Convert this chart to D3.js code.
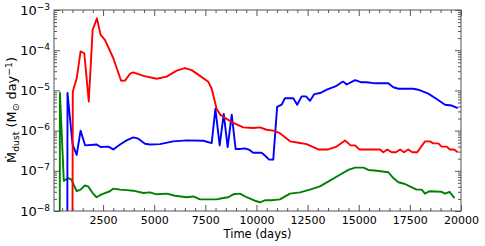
<!DOCTYPE html>
<html>
<head>
<meta charset="utf-8">
<script src="https://cdn.jsdelivr.net/npm/d3@7"></script>
<style>
  body { margin: 0; background: #fff; }
  text { font-family: "DejaVu Sans", sans-serif; fill: #000; }
</style>
</head>
<body>
<div id="chart"></div>
<script>
'use strict';

// [time (days), Mdot_dust (Msun/day)]; values below 1e-8 fall off the axis
var red = [
  [1000, 1e-9], [1020, 9.4e-6], [1210, 2.0e-5], [1400, 9.3e-5], [1580, 8.4e-5],
  [1800, 5.3e-6], [1990, 3.2e-4], [2200, 6.2e-4], [2380, 2.4e-4], [2590, 1.8e-4],
  [3000, 6.3e-5], [3380, 1.74e-5], [3570, 1.75e-5], [3820, 2.6e-5], [3980, 2.8e-5],
  [4470, 2.3e-5], [5120, 1.95e-5], [5610, 2.2e-5], [6100, 3.1e-5], [6500, 3.6e-5],
  [6830, 3.2e-5], [7240, 2.3e-5], [7640, 1.65e-5], [7810, 1.1e-5], [8050, 3.5e-6],
  [8220, 2.5e-6], [8380, 2.2e-6], [8870, 1.55e-6], [9350, 1.2e-6], [9840, 1.16e-6],
  [10170, 1.2e-6], [10490, 1.05e-6], [10820, 1.0e-6], [11150, 8.6e-7], [11640, 5.4e-7],
  [12130, 4.9e-7], [12450, 4.6e-7], [13020, 3.4e-7], [13510, 3.4e-7], [13920, 4.0e-7],
  [14330, 5.7e-7], [14600, 4.3e-7], [14820, 4.3e-7], [15030, 3.4e-7], [16040, 3.4e-7],
  [16200, 2.9e-7], [16400, 3.4e-7], [16610, 2.9e-7], [16820, 2.9e-7], [17020, 3.4e-7],
  [17210, 2.9e-7], [17420, 3.4e-7], [17620, 2.9e-7], [17860, 2.9e-7], [18240, 5.4e-7],
  [18480, 5.4e-7], [18640, 4.8e-7], [18890, 4.8e-7], [19050, 4.0e-7], [19300, 4.0e-7],
  [19460, 3.4e-7], [19660, 3.4e-7], [19840, 2.9e-7]
];

var blue = [
  [750, 1e-9], [760, 8.6e-6], [1010, 4.5e-7], [1210, 2.5e-7], [1400, 1.0e-6],
  [1620, 4.3e-7], [2190, 4.5e-7], [2380, 3.9e-7], [2760, 4.0e-7], [3000, 3.4e-7],
  [3330, 4.5e-7], [3650, 5.7e-7], [3980, 6.8e-7], [4220, 6.3e-7], [4550, 4.7e-7],
  [4790, 4.5e-7], [5280, 4.6e-7], [5930, 5.4e-7], [6590, 5.7e-7], [7400, 5.6e-7],
  [7810, 4.9e-7], [7990, 3.5e-6], [8200, 4.3e-7], [8400, 2.6e-6], [8590, 3.9e-7],
  [8790, 2.5e-6], [8980, 3.5e-7], [9210, 3.5e-7], [9420, 3.6e-7], [9660, 3.3e-7],
  [9840, 2.8e-7], [10250, 2.8e-7], [10410, 2.4e-7], [10620, 1.9e-7], [10820, 1.9e-7],
  [11010, 3.9e-6], [11230, 4.4e-6], [11390, 6.4e-6], [11800, 6.4e-6], [11990, 4.4e-6],
  [12210, 7.1e-6], [12420, 7.1e-6], [12620, 5.5e-6], [12830, 8.1e-6], [13110, 8.6e-6],
  [13440, 1.04e-5], [13920, 1.3e-5], [14170, 1.6e-5], [14250, 1.65e-5], [14410, 1.4e-5],
  [14820, 1.8e-5], [15100, 1.6e-5], [15390, 1.6e-5], [15800, 1.5e-5], [16450, 1.5e-5],
  [16690, 1.2e-5], [16940, 1.1e-5], [17670, 1.1e-5], [17910, 1.04e-5], [18400, 8.3e-6],
  [18810, 6.1e-6], [19220, 4.4e-6], [19550, 4.2e-6], [19840, 3.6e-6]
];

var green = [
  [380, 1e-9], [390, 8.6e-6], [580, 5.6e-8], [790, 6.6e-8], [950, 6.0e-8],
  [1210, 3.1e-8], [1400, 3.4e-8], [1610, 4.3e-8], [1770, 4.1e-8], [1990, 2.8e-8],
  [2180, 2.2e-8], [2430, 2.6e-8], [2830, 3.1e-8], [3000, 3.6e-8], [3330, 3.4e-8],
  [3650, 3.3e-8], [3980, 3.2e-8], [4470, 2.8e-8], [4790, 2.9e-8], [5120, 2.6e-8],
  [5610, 2.7e-8], [6020, 2.4e-8], [6590, 2.2e-8], [6910, 2.3e-8], [7240, 1.95e-8],
  [8050, 1.95e-8], [8380, 2.1e-8], [8620, 2.2e-8], [8870, 2.6e-8], [9190, 2.7e-8],
  [9520, 2.2e-8], [9920, 1.8e-8], [10170, 1.65e-8], [10410, 1.85e-8], [10740, 1.85e-8],
  [11150, 1.95e-8], [11640, 2.7e-8], [12130, 2.9e-8], [12610, 3.4e-8], [13100, 4.1e-8],
  [13590, 5.7e-8], [14080, 8.0e-8], [14490, 1.05e-7], [14820, 1.2e-7], [15230, 1.2e-7],
  [15470, 1.05e-7], [15880, 1.0e-7], [16450, 9.2e-8], [16690, 6.6e-8], [16940, 5.2e-8],
  [17260, 4.7e-8], [17500, 4.1e-8], [17830, 3.4e-8], [18080, 3.4e-8], [18240, 2.7e-8],
  [18450, 3.1e-8], [19050, 3.0e-8], [19220, 2.7e-8], [19440, 3.0e-8], [19680, 2.1e-8]
];

var xTicks = [2500, 5000, 7500, 10000, 12500, 15000, 17500, 20000];
var yExponents = [-8, -7, -6, -5, -4, -3];

var width = 485, height = 246;
var plotLeft = 54, plotRight = 461, plotTop = 10, plotBottom = 211;
var frameColor = '#555';

var svg = d3.select('#chart')
    .append('svg')
    .attr('width', width)
    .attr('height', height);

var x = d3.scaleLinear().domain([100, 20000]).range([plotLeft, plotRight]);
var y = d3.scaleLog().domain([1e-8, 1e-3]).range([plotBottom, plotTop]);

var xMinor = d3.range(500, 20001, 500).filter(function (v) { return v % 2500 !== 0; });
var yMinor = [];
yExponents.slice(0, -1).forEach(function (e) {
    for (var k = 2; k <= 9; k++) { yMinor.push(k * Math.pow(10, e)); }
});
var yMajor = yExponents.map(function (e) { return Math.pow(10, e); });

function styleAxis(g) {
    g.select('.domain').remove();
    g.selectAll('line').attr('stroke', frameColor).attr('stroke-width', 1);
}

// inward ticks on all four sides
svg.append('g').attr('transform', 'translate(0,' + plotBottom + ')')
    .call(d3.axisBottom(x).tickValues(xTicks).tickSize(-6).tickPadding(5).tickFormat(d3.format('d')))
    .call(styleAxis)
    .selectAll('text').attr('font-size', 11).attr('font-family', 'DejaVu Sans');
svg.append('g').attr('transform', 'translate(0,' + plotBottom + ')')
    .call(d3.axisBottom(x).tickValues(xMinor).tickSize(-3).tickFormat(''))
    .call(styleAxis);
svg.append('g').attr('transform', 'translate(0,' + plotTop + ')')
    .call(d3.axisTop(x).tickValues(xTicks).tickSize(-6).tickFormat(''))
    .call(styleAxis);
svg.append('g').attr('transform', 'translate(0,' + plotTop + ')')
    .call(d3.axisTop(x).tickValues(xMinor).tickSize(-3).tickFormat(''))
    .call(styleAxis);

svg.append('g').attr('transform', 'translate(' + plotLeft + ',0)')
    .call(d3.axisLeft(y).tickValues(yMajor).tickSize(-6).tickFormat(''))
    .call(styleAxis);
svg.append('g').attr('transform', 'translate(' + plotLeft + ',0)')
    .call(d3.axisLeft(y).tickValues(yMinor).tickSize(-3).tickFormat(''))
    .call(styleAxis);
svg.append('g').attr('transform', 'translate(' + plotRight + ',0)')
    .call(d3.axisRight(y).tickValues(yMajor).tickSize(-6).tickFormat(''))
    .call(styleAxis);
svg.append('g').attr('transform', 'translate(' + plotRight + ',0)')
    .call(d3.axisRight(y).tickValues(yMinor).tickSize(-3).tickFormat(''))
    .call(styleAxis);

// y tick labels 10^n
var yLab = svg.append('g').selectAll('text')
    .data(yExponents)
    .enter()
    .append('text')
    .attr('x', 50)
    .attr('y', function (d) { return y(Math.pow(10, d)) + 4.5; })
    .attr('text-anchor', 'end')
    .attr('font-size', 13);
yLab.append('tspan').text('10');
yLab.append('tspan')
    .attr('font-size', 9)
    .attr('dy', -5)
    .text(function (d) { return '\u2212' + Math.abs(d); });

// lines
svg.append('clipPath').attr('id', 'plot-clip')
    .append('rect')
    .attr('x', plotLeft).attr('y', plotTop)
    .attr('width', plotRight - plotLeft).attr('height', plotBottom - plotTop);

var line = d3.line()
    .x(function (d) { return x(d[0]); })
    .y(function (d) { return y(d[1]); });

var series = [
    { data: green, color: '#008000' },
    { data: blue, color: '#0000ff' },
    { data: red, color: '#ff0000' }
];

svg.append('g').attr('clip-path', 'url(#plot-clip)')
    .selectAll('path')
    .data(series)
    .enter()
    .append('path')
    .attr('d', function (d) { return line(d.data); })
    .attr('fill', 'none')
    .attr('stroke', function (d) { return d.color; })
    .attr('stroke-width', 1.9)
    .attr('stroke-linejoin', 'round');

// frame
svg.append('rect')
    .attr('x', plotLeft).attr('y', plotTop)
    .attr('width', plotRight - plotLeft).attr('height', plotBottom - plotTop)
    .attr('fill', 'none')
    .attr('stroke', frameColor)
    .attr('stroke-width', 1);

// axis titles
svg.append('text')
    .attr('x', (plotLeft + plotRight) / 2)
    .attr('y', 238)
    .attr('text-anchor', 'middle')
    .attr('font-size', 11.5)
    .text('Time (days)');

// y title, sized so it spans about 106px like the original
function yTitle(size) {
    var sub = size * 0.72;
    var t = svg.append('text')
        .attr('transform', 'translate(16,110) rotate(-90)')
        .attr('text-anchor', 'middle')
        .attr('font-size', size);
    t.append('tspan').text('\u1E40');
    t.append('tspan').attr('font-size', sub).attr('dy', 3).text('dust');
    t.append('tspan').attr('dy', -3).text(' (M');
    t.append('tspan').attr('font-size', sub).attr('dy', 3).text('\u2299');
    t.append('tspan').attr('dy', -3).text(' day');
    t.append('tspan').attr('font-size', sub).attr('dy', -4).text('\u22121');
    t.append('tspan').attr('dy', 4).text(')');
    return t;
}
var probe = yTitle(11);
var fit = 11 * 106 / probe.node().getComputedTextLength();
probe.remove();
yTitle(Math.min(fit, 13));
</script>
</body>
</html>
